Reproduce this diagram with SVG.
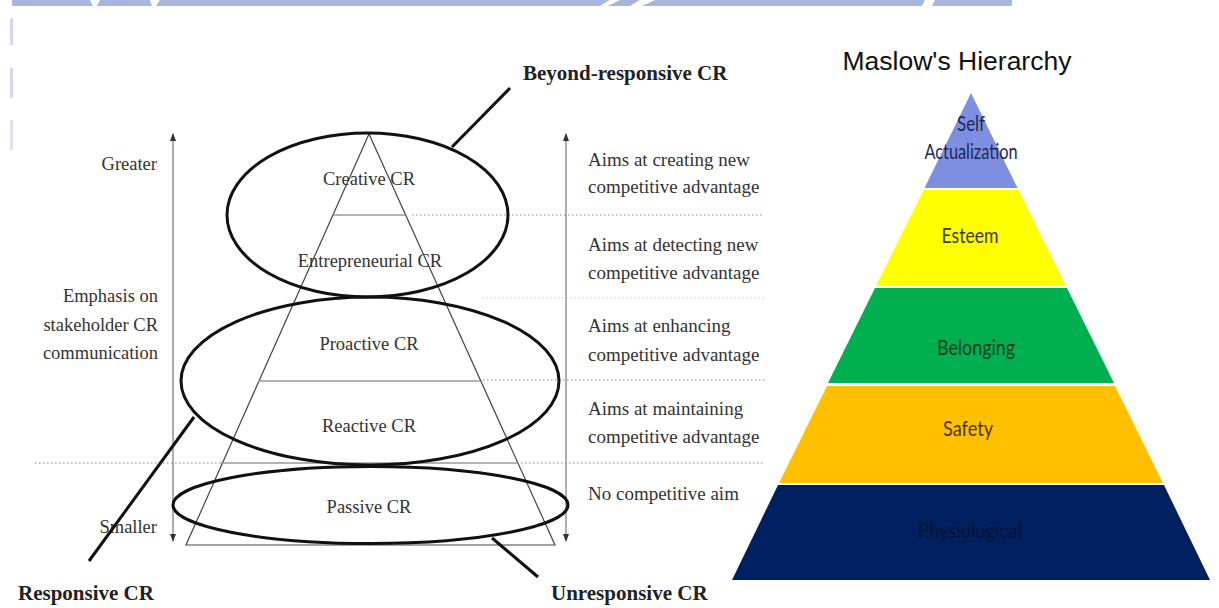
<svg xmlns="http://www.w3.org/2000/svg" width="1219" height="608" viewBox="0 0 1219 608">
  <style>
    .serif { font-family: "Liberation Serif", "Times New Roman", serif; fill: #333; }
    .lbl { font-size: 18.5px; }
    .side { font-size: 19px; }
    .big { font-size: 21px; font-weight: bold; fill: #222; }
    .ring { fill: none; stroke: #111; stroke-width: 3; }
    .tri { fill: none; stroke: #444; stroke-width: 1.2; }
    .tier { stroke: #9a9a9a; stroke-width: 1.3; }
    .dots { stroke: #888; stroke-width: 1.2; stroke-dasharray: 1.5 2.5; }
    .faint { stroke: #ccc; stroke-width: 1.2; stroke-dasharray: 1.5 2.5; }
    .axis { stroke: #777; stroke-width: 1.2; }
    .leader { stroke: #111; stroke-width: 3; }
    .mas { font-family: Lato, "Open Sans", "Liberation Sans", sans-serif; font-size: 22px; text-anchor: middle; }
  </style>
  <defs>
    <marker id="tip" viewBox="0 0 8 6" refX="7" refY="3" markerWidth="8" markerHeight="6" orient="auto-start-reverse" markerUnits="userSpaceOnUse">
      <path d="M0,0 L8,3 L0,6 Z" fill="#333"/>
    </marker>
  </defs>

  <rect width="1219" height="608" fill="#fff"/>

  <!-- light blue header strip with white slashes -->
  <g id="header">
    <rect x="12" y="0" width="1000" height="6" fill="#a9b6dc"/>
    <polygon points="90,0 100,0 97,6 93,6" fill="#fff"/>
    <polygon points="150,0 160,0 156,6 152,6" fill="#fff"/>
    <polygon points="610,0 620,0 608,6 600,6" fill="#fff"/>
    <polygon points="640,0 655,0 642,6 630,6" fill="#fff"/>
    <polygon points="925,0 935,0 932,6 922,6" fill="#fff"/>
    <rect x="10" y="18" width="3" height="27" fill="#d2d8ee"/>
    <rect x="10" y="68" width="3" height="30" fill="#d2d8ee"/>
    <rect x="10" y="120" width="3" height="30" fill="#dde1f1"/>
  </g>

  <!-- CR pyramid -->
  <g id="cr-pyramid">
    <polygon class="tri" points="369,134 186,545 555,545"/>
    <line class="tier" x1="333" y1="215" x2="405" y2="215"/>
    <line class="tier" x1="258" y1="381" x2="480" y2="381"/>
    <line class="tier" x1="221" y1="463" x2="517" y2="463"/>
  </g>

  <!-- tier separators extending to the aims column -->
  <g id="separators">
    <line class="dots" x1="412" y1="215" x2="764" y2="215"/>
    <line class="faint" x1="482" y1="298" x2="764" y2="298"/>
    <line class="dots" x1="483" y1="380" x2="765" y2="380"/>
    <line class="dots" x1="35" y1="463" x2="221" y2="463"/>
    <line class="dots" x1="517" y1="463" x2="764" y2="463"/>
  </g>

  <!-- vertical scales -->
  <g id="scale-left">
    <line class="axis" x1="173" y1="134" x2="173" y2="541" marker-start="url(#tip)" marker-end="url(#tip)"/>
    <text class="serif lbl" x="157" y="170" text-anchor="end">Greater</text>
    <text class="serif lbl" x="158" y="302" text-anchor="end">Emphasis on</text>
    <text class="serif lbl" x="158" y="331" text-anchor="end">stakeholder CR</text>
    <text class="serif lbl" x="158" y="359" text-anchor="end">communication</text>
    <text class="serif lbl" x="157" y="533" text-anchor="end">Smaller</text>
  </g>
  <g id="scale-right">
    <line class="axis" x1="566" y1="134" x2="566" y2="541" marker-start="url(#tip)" marker-end="url(#tip)"/>
  </g>

  <!-- level labels -->
  <g id="level-creative"><text class="serif lbl" x="369" y="185" text-anchor="middle">Creative CR</text></g>
  <g id="level-entrepreneurial"><text class="serif lbl" x="370" y="267" text-anchor="middle">Entrepreneurial CR</text></g>
  <g id="level-proactive"><text class="serif lbl" x="369" y="350" text-anchor="middle">Proactive CR</text></g>
  <g id="level-reactive"><text class="serif lbl" x="369" y="432" text-anchor="middle">Reactive CR</text></g>
  <g id="level-passive"><text class="serif lbl" x="369" y="513" text-anchor="middle">Passive CR</text></g>

  <!-- aims column -->
  <g id="aims">
    <text class="serif side" x="588" y="166">Aims at creating new</text>
    <text class="serif side" x="588" y="193">competitive advantage</text>
    <text class="serif side" x="588" y="251">Aims at detecting new</text>
    <text class="serif side" x="588" y="279">competitive advantage</text>
    <text class="serif side" x="588" y="332">Aims at enhancing</text>
    <text class="serif side" x="588" y="361">competitive advantage</text>
    <text class="serif side" x="588" y="415">Aims at maintaining</text>
    <text class="serif side" x="588" y="443">competitive advantage</text>
    <text class="serif side" x="588" y="500">No competitive aim</text>
  </g>

  <!-- CR groupings -->
  <g id="beyond-responsive">
    <ellipse class="ring" cx="367.5" cy="215" rx="140.5" ry="82"/>
    <text class="serif big" x="523" y="80">Beyond-responsive CR</text>
  </g>
  <g id="responsive">
    <ellipse class="ring" cx="370" cy="381" rx="189" ry="84"/>
    <text class="serif big" x="18" y="600">Responsive CR</text>
  </g>
  <g id="unresponsive">
    <ellipse class="ring" cx="370.5" cy="505" rx="197.5" ry="38.5"/>
    <text class="serif big" x="551" y="600">Unresponsive CR</text>
  </g>

  <g id="connectors">
    <line class="leader" x1="452" y1="147" x2="510" y2="88"/>
    <line class="leader" x1="194" y1="417" x2="89" y2="561"/>
    <line class="leader" x1="492" y1="538" x2="538" y2="577"/>
  </g>

  <!-- Maslow's hierarchy -->
  <g id="maslow-title">
    <text x="957" y="70" font-family="'Liberation Sans', Arial, sans-serif" font-size="26.5" fill="#111" text-anchor="middle">Maslow's Hierarchy</text>
  </g>
  <g id="maslow-self">
    <polygon points="971,93 1017.5,188 924.5,188" fill="#7f8fe0"/>
    <text class="mas" x="971" y="131" fill="#1c2755" textLength="28" lengthAdjust="spacingAndGlyphs">Self</text>
    <text class="mas" x="971" y="159" fill="#1c2755" textLength="93" lengthAdjust="spacingAndGlyphs">Actualization</text>
  </g>
  <g id="maslow-esteem">
    <polygon points="923.5,190 1018.5,190 1066,286 876,286" fill="#ffff00"/>
    <text class="mas" x="970" y="243" fill="#3b3b00" textLength="57" lengthAdjust="spacingAndGlyphs">Esteem</text>
  </g>
  <g id="maslow-belonging">
    <polygon points="875,288 1067,288 1114,383 828,383" fill="#00b050"/>
    <text class="mas" x="976" y="355" fill="#0b3d1d" textLength="78" lengthAdjust="spacingAndGlyphs">Belonging</text>
  </g>
  <g id="maslow-safety">
    <polygon points="827,386 1115,386 1163,483 779,483" fill="#ffc000"/>
    <text class="mas" x="968" y="436" fill="#4d3500" textLength="50" lengthAdjust="spacingAndGlyphs">Safety</text>
  </g>
  <g id="maslow-physiological">
    <polygon points="778,485 1164,485 1210,580 732,580" fill="#002060"/>
    <text class="mas" x="970" y="538" fill="#0a1435" textLength="104" lengthAdjust="spacingAndGlyphs">Physiological</text>
  </g>
</svg>
